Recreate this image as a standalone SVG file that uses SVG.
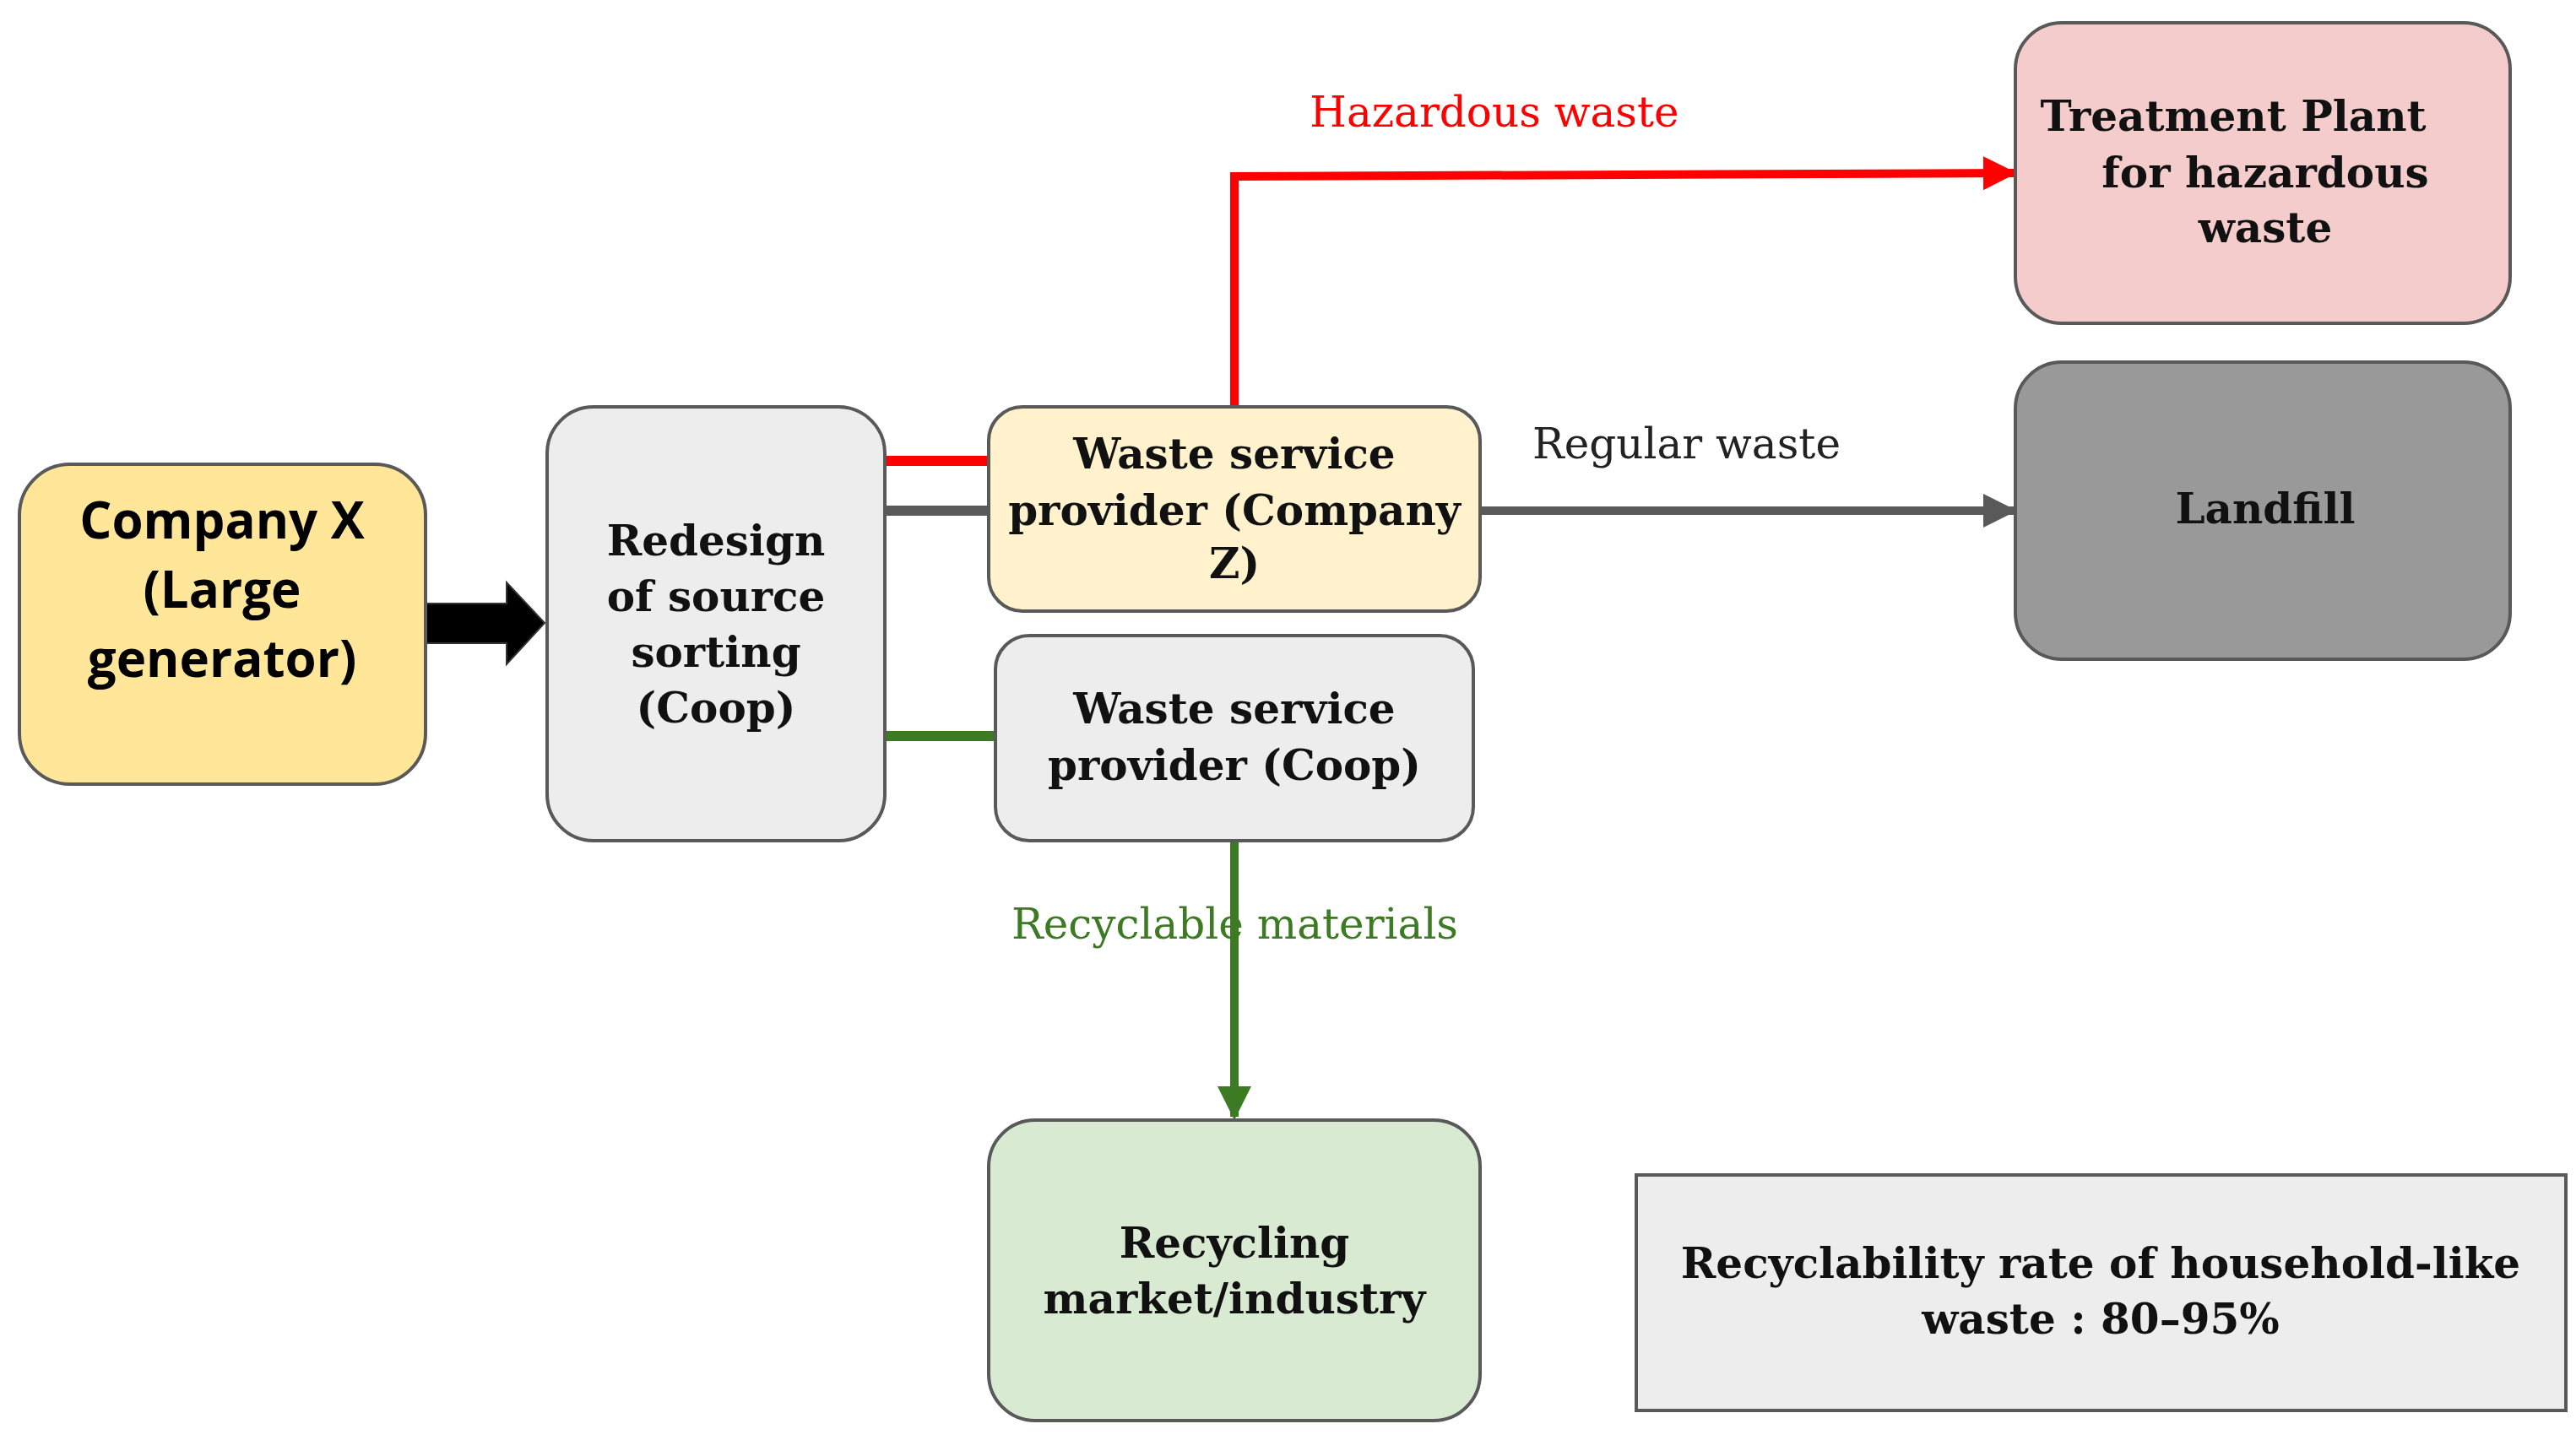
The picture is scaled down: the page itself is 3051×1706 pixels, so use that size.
<svg xmlns="http://www.w3.org/2000/svg" width="3051" height="1706" viewBox="0 0 3051 1706">
<style>
.n{stroke:#595959;stroke-width:4}
.t{font-family:"DejaVu Serif","Liberation Serif",serif;font-weight:bold;font-size:50px;text-anchor:middle;fill:#111}
.l{font-family:"DejaVu Serif","Liberation Serif",serif;font-size:50px}
</style>
<defs>
<marker id="ar" viewBox="0 0 10 10" refX="9" refY="5" markerWidth="4" markerHeight="4" orient="auto" markerUnits="strokeWidth"><path d="M0,0L10,5L0,10z" fill="#ff0000"/></marker>
<marker id="ag" viewBox="0 0 10 10" refX="9" refY="5" markerWidth="4" markerHeight="4" orient="auto" markerUnits="strokeWidth"><path d="M0,0L10,5L0,10z" fill="#595959"/></marker>
<marker id="agr" viewBox="0 0 10 10" refX="9" refY="5" markerWidth="4" markerHeight="4" orient="auto" markerUnits="strokeWidth"><path d="M0,0L10,5L0,10z" fill="#3d7a24"/></marker>
</defs>
<rect width="3051" height="1706" fill="#fff"/>
<g id="connectors" fill="none">
<path d="M504,715H600V690L645,738L600,787V762H504z" fill="#000" stroke="#333" stroke-width="2"/>
<path d="M1048,546H1171" stroke="#ff0000" stroke-width="12"/>
<path d="M1048,605H1171" stroke="#595959" stroke-width="12"/>
<path d="M1048,872H1179" stroke="#3d7a24" stroke-width="12"/>
<path d="M1462,482V209L2385,205" stroke="#ff0000" stroke-width="10" marker-end="url(#ar)"/>
<path d="M1753,605H2385" stroke="#595959" stroke-width="10" marker-end="url(#ag)"/>
<path d="M1462,996V1323" stroke="#3d7a24" stroke-width="10" marker-end="url(#agr)"/>
</g>
<g id="companyX"><rect class="n" x="23" y="550" width="481" height="379" rx="60" fill="#ffe699"/>
<text font-family="Open Sans,Liberation Sans,sans-serif" font-weight="bold" font-size="60" text-anchor="middle" fill="#000"><tspan x="263" y="638">Company X</tspan><tspan x="263" y="720">(Large</tspan><tspan x="263" y="802">generator)</tspan></text></g>
<g id="redesign"><rect class="n" x="648" y="482" width="400" height="514" rx="55" fill="#ededed"/>
<text class="t"><tspan x="848" y="658">Redesign</tspan><tspan x="848" y="724">of source</tspan><tspan x="848" y="790">sorting</tspan><tspan x="848" y="856">(Coop)</tspan></text></g>
<g id="wspZ"><rect class="n" x="1171" y="482" width="582" height="242" rx="40" fill="#fff2cc"/>
<text class="t"><tspan x="1462" y="555">Waste service</tspan><tspan x="1462" y="622">provider (Company</tspan><tspan x="1462" y="685">Z)</tspan></text></g>
<g id="wspCoop"><rect class="n" x="1179" y="753" width="566" height="243" rx="40" fill="#ededed"/>
<text class="t"><tspan x="1462" y="857">Waste service</tspan><tspan x="1462" y="924">provider (Coop)</tspan></text></g>
<g id="treatment"><rect class="n" x="2387" y="27" width="586" height="356" rx="55" fill="#f4cccc"/>
<text class="t"><tspan x="2645" y="155">Treatment Plant</tspan><tspan x="2683" y="222">for hazardous</tspan><tspan x="2683" y="287">waste</tspan></text></g>
<g id="landfill"><rect class="n" x="2387" y="429" width="586" height="352" rx="55" fill="#999999"/>
<text class="t" x="2683" y="620">Landfill</text></g>
<g id="recycling"><rect class="n" x="1171" y="1327" width="582" height="356" rx="55" fill="#d9ead3"/>
<text class="t"><tspan x="1462" y="1490">Recycling</tspan><tspan x="1462" y="1556">market/industry</tspan></text></g>
<g id="rate"><rect x="1938" y="1392" width="1101" height="279" fill="#ededed" stroke="#595959" stroke-width="4"/>
<text class="t"><tspan x="2488" y="1514">Recyclability rate of household-like</tspan><tspan x="2488" y="1580">waste : 80–95%</tspan></text></g>
<text class="l" x="1770" y="150" text-anchor="middle" fill="#ff0000">Hazardous waste</text>
<text class="l" x="1815" y="543" fill="#222">Regular waste</text>
<text class="l" x="1198" y="1112" fill="#3d7a24">Recyclable  materials</text>
</svg>
